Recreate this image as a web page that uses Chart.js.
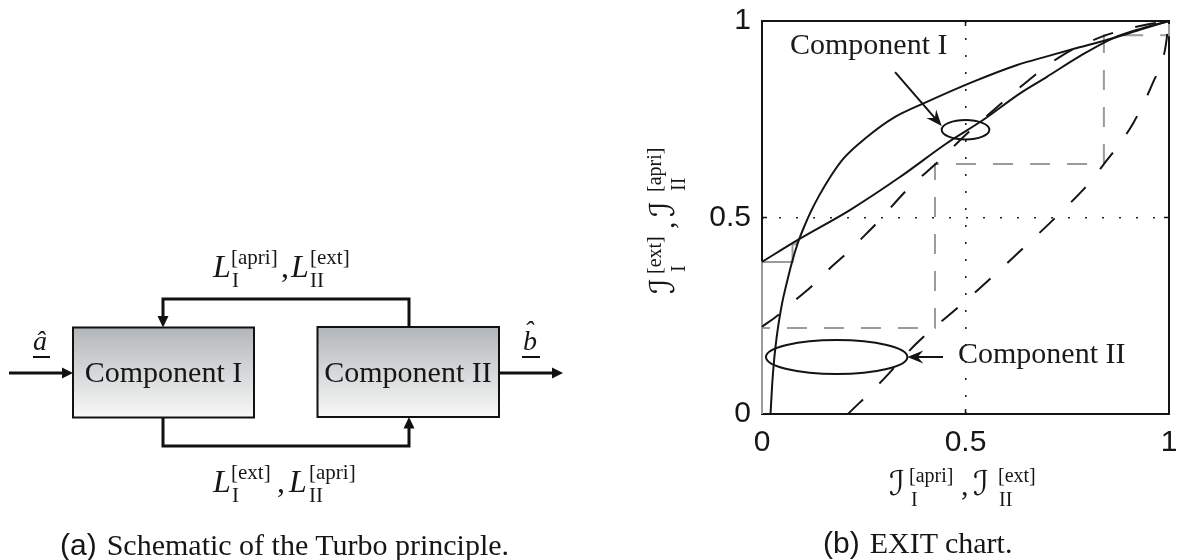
<!DOCTYPE html>
<html>
<head>
<meta charset="utf-8">
<script src="https://cdn.jsdelivr.net/npm/chart.js@4/dist/chart.umd.min.js"></script>
<style>
  html, body { margin: 0; padding: 0; background: #fff; }
  #page { position: relative; width: 1178px; height: 560px; overflow: hidden; background: #fff; }
  #exit { position: absolute; left: 600px; top: 0; }
  #art { position: absolute; left: 0; top: 0; pointer-events: none; }
  .serif { font-family: 'Liberation Serif', 'Times New Roman', serif; fill: #161616; }
  .sans { font-family: 'Liberation Sans', Arial, sans-serif; fill: #161616; }
  .cal { font-family: 'DejaVu Serif', 'DejaVu Sans', serif; font-style: italic; }
</style>
</head>
<body>
<div id="page">
  <canvas id="exit" width="578" height="560"></canvas>
  <svg id="art" width="1178" height="560" viewBox="0 0 1178 560">
    <defs>
      <linearGradient id="boxFill" x1="0" y1="0" x2="0" y2="1">
        <stop offset="0" stop-color="#b3b6b9"/>
        <stop offset="1" stop-color="#f8f8f8"/>
      </linearGradient>
    </defs>

    <!-- Turbo loop: the two components -->
    <rect x="73" y="327.5" width="181" height="90" fill="url(#boxFill)" stroke="#111" stroke-width="2"/>
    <rect x="317.5" y="327" width="181.5" height="90" fill="url(#boxFill)" stroke="#111" stroke-width="2"/>
    <text class="serif" x="163.5" y="382" font-size="30" text-anchor="middle">Component I</text>
    <text class="serif" x="408" y="382" font-size="30" text-anchor="middle">Component II</text>

    <!-- input and output -->
    <g stroke="#111" stroke-width="3" fill="none">
      <line x1="9" y1="373" x2="64" y2="373"/>
      <line x1="499" y1="373" x2="554" y2="373"/>
      <polyline points="409,327 409,299 163,299 163,318"/>
      <polyline points="163,418 163,446 409,446 409,427"/>
    </g>
    <g fill="#111">
      <polygon points="73,373 62,367.5 62,378.5"/>
      <polygon points="563,373 552,367.5 552,378.5"/>
      <polygon points="163,327.5 157.5,316 168.5,316"/>
      <polygon points="409,417 403.5,428.5 414.5,428.5"/>
    </g>

    <!-- a-hat and b-hat -->
    <text class="serif" x="33" y="350" font-size="28" font-style="italic">â</text>
    <line x1="33" y1="357" x2="50" y2="357" stroke="#111" stroke-width="2"/>
    <text class="serif" x="523" y="350" font-size="28" font-style="italic">b</text>
    <text class="serif" x="524" y="340" font-size="28" font-style="italic">ˆ</text>
    <line x1="522" y1="357" x2="540" y2="357" stroke="#111" stroke-width="2"/>

    <!-- feedback labels -->
    <text class="serif" font-size="32">
      <tspan x="213" y="277" font-style="italic">L</tspan>
      <tspan x="231" y="264" font-size="21">[apri]</tspan>
      <tspan x="232" y="287" font-size="21">I</tspan>
      <tspan x="281" y="277">,</tspan>
      <tspan x="291" y="277" font-style="italic">L</tspan>
      <tspan x="310" y="264" font-size="21">[ext]</tspan>
      <tspan x="310" y="287" font-size="21">II</tspan>
    </text>
    <text class="serif" font-size="32">
      <tspan x="213" y="492" font-style="italic">L</tspan>
      <tspan x="231" y="479" font-size="21">[ext]</tspan>
      <tspan x="232" y="502" font-size="21">I</tspan>
      <tspan x="277" y="492">,</tspan>
      <tspan x="289" y="492" font-style="italic">L</tspan>
      <tspan x="309" y="479" font-size="21">[apri]</tspan>
      <tspan x="309" y="502" font-size="21">II</tspan>
    </text>

    <!-- captions -->
    <text x="60" y="555" font-size="30"><tspan class="sans">(a)</tspan><tspan class="serif" dx="10">Schematic of the Turbo principle.</tspan></text>
    <text x="823" y="553" font-size="30"><tspan class="sans">(b)</tspan><tspan class="serif" dx="10">EXIT chart.</tspan></text>

    <!-- axis titles of the EXIT chart -->
    <text class="serif" font-size="30">
      <tspan class="cal" x="889" y="495" font-size="34">ℐ</tspan>
      <tspan x="909" y="482" font-size="20">[apri]</tspan>
      <tspan x="911" y="506" font-size="20">I</tspan>
      <tspan x="961" y="495">,</tspan>
      <tspan class="cal" x="973" y="495" font-size="34">ℐ</tspan>
      <tspan x="998" y="482" font-size="20">[ext]</tspan>
      <tspan x="999" y="506" font-size="20">II</tspan>
    </text>
    <g transform="translate(674,295) rotate(-90)">
      <text class="serif" font-size="30">
        <tspan class="cal" x="1" y="0" font-size="34">ℐ</tspan>
        <tspan x="21" y="-13" font-size="20">[ext]</tspan>
        <tspan x="23" y="11" font-size="20">I</tspan>
        <tspan x="66" y="0">,</tspan>
        <tspan class="cal" x="78" y="0" font-size="34">ℐ</tspan>
        <tspan x="103" y="-13" font-size="20">[apri]</tspan>
        <tspan x="104" y="11" font-size="20">II</tspan>
      </text>
    </g>
  </svg>
</div>

<script>
// Axis ticks
const tickValues = [0, 0.5, 1];
const tickLabels = ['0', '0.5', '1'];

// Component I transfer curve (solid, near-linear)
const compI_x = [0, 0.088, 0.216, 0.339, 0.454, 0.543, 0.634, 0.70, 0.78, 0.862, 0.93, 1];
const compI_y = [0.387, 0.443, 0.519, 0.603, 0.689, 0.748, 0.816, 0.858, 0.91, 0.956, 0.98, 1];

// Component II transfer curve (solid, axes swapped, steep start)
const compII_x = [0.021, 0.025, 0.03, 0.036, 0.042, 0.05, 0.06, 0.072, 0.088, 0.105, 0.12, 0.14, 0.17, 0.2, 0.258, 0.322, 0.405, 0.518, 0.627, 0.7, 0.78, 0.862, 0.93, 1];
const compII_y = [0, 0.075, 0.14, 0.195, 0.238, 0.285, 0.33, 0.38, 0.435, 0.48, 0.515, 0.555, 0.607, 0.65, 0.705, 0.753, 0.794, 0.845, 0.888, 0.91, 0.933, 0.956, 0.978, 1];

// Second operating point: Component I (dashed)
const compIb_x = [0, 0.04, 0.088, 0.125, 0.167, 0.208, 0.248, 0.285, 0.356, 0.437, 0.5, 0.57, 0.65, 0.74, 0.84, 0.887, 0.94, 1];
const compIb_y = [0.222, 0.252, 0.295, 0.328, 0.371, 0.409, 0.45, 0.489, 0.57, 0.646, 0.71, 0.774, 0.845, 0.914, 0.962, 0.977, 0.99, 1];

// Second operating point: Component II (dashed)
const compIIb_x = [0.211, 0.30, 0.38, 0.48, 0.531, 0.65, 0.732, 0.806, 0.84, 0.867, 0.912, 0.96, 0.99, 1];
const compIIb_y = [0, 0.09, 0.18, 0.27, 0.316, 0.43, 0.511, 0.59, 0.636, 0.672, 0.74, 0.842, 0.926, 1];

// Decoding trajectories between the curve pairs
const trajSolid_x = [0, 0, 0.075, 0.075, 0.085, 0.085];
const trajSolid_y = [0, 0.387, 0.387, 0.432, 0.432, 0.442];
const trajDashed_x = [0, 0, 0.425, 0.425, 0.84, 0.84, 1, 1];
const trajDashed_y = [0, 0.219, 0.219, 0.636, 0.636, 0.964, 0.964, 1];

const pts = (xs, ys) => xs.map((x, i) => ({ x: x, y: ys[i] }));

// Callouts in data units
const callouts = {
  ellipses: [
    { cx: 0.5, cy: 0.7234, rx: 0.0585, ry: 0.0247 },
    { cx: 0.1835, cy: 0.145, rx: 0.1737, ry: 0.0433 }
  ],
  arrows: [
    { x0: 0.327, y0: 0.870, x1: 0.4415, y1: 0.733 },
    { x0: 0.4447, y0: 0.145, x1: 0.357, y1: 0.145 }
  ],
  labels: [
    { text: 'Component I', x: 0.0688, y: 0.916 },
    { text: 'Component II', x: 0.4816, y: 0.13 }
  ]
};

const INK = '#141414';
const GREY = '#9b9b9b';

const framePlugin = {
  id: 'frame',
  beforeDatasetsDraw(chart) {
    const { ctx, chartArea: a, scales } = chart;
    ctx.save();
    ctx.strokeStyle = INK;
    ctx.lineWidth = 2;
    ctx.strokeRect(a.left, a.top, a.right - a.left, a.bottom - a.top);
    // short inward ticks at the mid value
    ctx.lineWidth = 1.5;
    const mx = scales.x.getPixelForValue(0.5);
    const my = scales.y.getPixelForValue(0.5);
    ctx.beginPath();
    ctx.moveTo(mx, a.bottom); ctx.lineTo(mx, a.bottom - 5);
    ctx.moveTo(mx, a.top); ctx.lineTo(mx, a.top + 5);
    ctx.moveTo(a.left, my); ctx.lineTo(a.left + 5, my);
    ctx.moveTo(a.right, my); ctx.lineTo(a.right - 5, my);
    ctx.stroke();
    ctx.restore();
  }
};

function arrowHead(ctx, x0, y0, x1, y1, len, half) {
  const dx = x1 - x0, dy = y1 - y0;
  const d = Math.hypot(dx, dy);
  const ux = dx / d, uy = dy / d;
  const nx = -uy, ny = ux;
  ctx.beginPath();
  ctx.moveTo(x0, y0);
  ctx.lineTo(x1 - ux * len * 0.6, y1 - uy * len * 0.6);
  ctx.stroke();
  ctx.beginPath();
  ctx.moveTo(x1, y1);
  ctx.lineTo(x1 - ux * len + nx * half, y1 - uy * len + ny * half);
  ctx.lineTo(x1 - ux * len * 0.65, y1 - uy * len * 0.65);
  ctx.lineTo(x1 - ux * len - nx * half, y1 - uy * len - ny * half);
  ctx.closePath();
  ctx.fill();
}

const calloutPlugin = {
  id: 'callouts',
  afterDatasetsDraw(chart) {
    const { ctx, scales: { x, y } } = chart;
    ctx.save();
    ctx.strokeStyle = INK;
    ctx.fillStyle = INK;
    ctx.lineWidth = 2;
    callouts.ellipses.forEach(e => {
      const cx = x.getPixelForValue(e.cx), cy = y.getPixelForValue(e.cy);
      const rx = x.getPixelForValue(e.cx + e.rx) - cx;
      const ry = cy - y.getPixelForValue(e.cy + e.ry);
      ctx.beginPath();
      ctx.ellipse(cx, cy, rx, ry, 0, 0, Math.PI * 2);
      ctx.stroke();
    });
    callouts.arrows.forEach(r => {
      arrowHead(ctx, x.getPixelForValue(r.x0), y.getPixelForValue(r.y0),
                x.getPixelForValue(r.x1), y.getPixelForValue(r.y1), 16, 6.5);
    });
    ctx.font = '30px "Liberation Serif", "Times New Roman", serif';
    ctx.fillStyle = '#1a1a1a';
    ctx.textBaseline = 'alphabetic';
    ctx.textAlign = 'left';
    callouts.labels.forEach(l => {
      ctx.fillText(l.text, x.getPixelForValue(l.x), y.getPixelForValue(l.y));
    });
    ctx.restore();
  }
};

const solid = (xs, ys) => ({
  data: pts(xs, ys), borderColor: INK, borderWidth: 2,
  cubicInterpolationMode: 'monotone', pointRadius: 0, fill: false, clip: 6
});
const dashed = (xs, ys) => Object.assign(solid(xs, ys), { borderDash: [21, 23] });

const tickFont = { family: "'Liberation Sans', Arial, sans-serif", size: 30 };

new Chart(document.getElementById('exit'), {
  type: 'line',
  data: {
    datasets: [
      Object.assign(solid(compI_x, compI_y), { label: 'Component I' }),
      Object.assign(solid(compII_x, compII_y), { label: 'Component II' }),
      Object.assign(dashed(compIb_x, compIb_y), { label: 'Component I (2)' }),
      Object.assign(dashed(compIIb_x, compIIb_y), { label: 'Component II (2)' }),
      { label: 'trajectory', data: pts(trajSolid_x, trajSolid_y), borderColor: GREY, borderWidth: 2,
        tension: 0, pointRadius: 0, fill: false, clip: 6 },
      { label: 'trajectory (2)', data: pts(trajDashed_x, trajDashed_y), borderColor: GREY, borderWidth: 2,
        borderDash: [20, 17], tension: 0, pointRadius: 0, fill: false, clip: 6 }
    ]
  },
  options: {
    responsive: false,
    animation: false,
    devicePixelRatio: 1,
    layout: { padding: { top: 21, right: 9, left: 0, bottom: 0 } },
    plugins: { legend: { display: false }, tooltip: { enabled: false } },
    scales: {
      x: {
        type: 'linear', min: 0, max: 1,
        afterBuildTicks: s => { s.ticks = tickValues.map(v => ({ value: v })); },
        afterFit: s => { s.height = 146; s.paddingLeft = 0; s.paddingRight = 0; },
        ticks: { callback: (v) => tickLabels[tickValues.indexOf(v)], font: tickFont, color: '#161616',
                 padding: 11, maxRotation: 0, autoSkip: false },
        grid: { drawTicks: false, lineWidth: 1.6,
                color: c => (c.tick && c.tick.value === 0.5) ? '#222' : 'rgba(0,0,0,0)' },
        border: { display: false, dash: [2, 15] }
      },
      y: {
        type: 'linear', min: 0, max: 1,
        afterBuildTicks: s => { s.ticks = tickValues.map(v => ({ value: v })); },
        afterFit: s => { s.width = 162; s.paddingTop = 0; s.paddingBottom = 0; },
        ticks: { callback: (v) => tickLabels[tickValues.indexOf(v)], font: tickFont, color: '#161616',
                 padding: 11, autoSkip: false },
        grid: { drawTicks: false, lineWidth: 1.6,
                color: c => (c.tick && c.tick.value === 0.5) ? '#222' : 'rgba(0,0,0,0)' },
        border: { display: false, dash: [2, 15] }
      }
    }
  },
  plugins: [framePlugin, calloutPlugin]
});
</script>
</body>
</html>
